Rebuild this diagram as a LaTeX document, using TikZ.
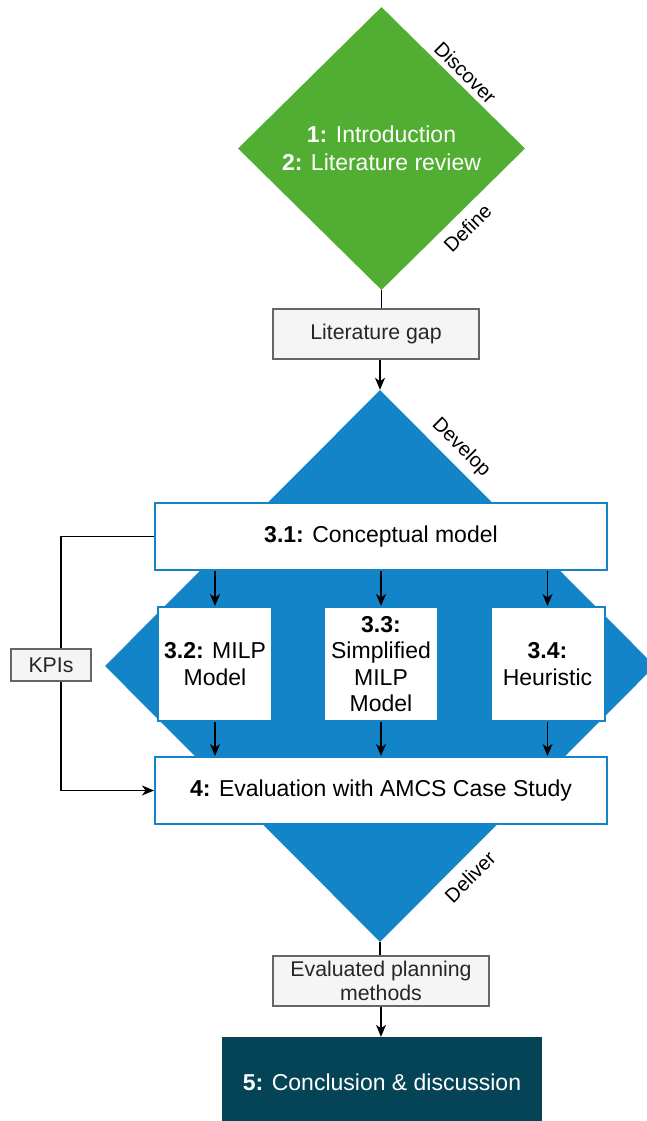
\documentclass[tikz,border=0pt]{standalone}
\usepackage{fontspec}
\setmainfont{Liberation Sans}
\usetikzlibrary{shapes.geometric,arrows.meta}
\definecolor{dgreen}{HTML}{52AE32}
\definecolor{dblue}{HTML}{1284C7}
\definecolor{dteal}{HTML}{054456}
\definecolor{gfill}{HTML}{F5F5F5}
\definecolor{gline}{HTML}{666666}
\begin{document}
\begin{tikzpicture}[x=1pt,y=-1pt,
  wbox/.style={draw=dblue, line width=2pt, fill=white, inner sep=0pt, align=center, font=\fontsize{23}{26.5}\selectfont},
  gbox/.style={draw=gline, line width=1.3pt, fill=gfill, inner sep=0pt, align=center, font=\fontsize{21.3}{24}\selectfont, text=black!85},
  phase/.style={font=\fontsize{20}{24}\selectfont, inner sep=0pt},
  conn/.style={line width=1.4pt, black},
  arr/.style={conn, -{Stealth[length=12pt,width=10pt,inset=3.5pt]}},
]
\useasboundingbox (0,0) rectangle (647,1121);
\clip (0,0) rectangle (647,1121);

\node[diamond, fill=dgreen, minimum width=287pt, minimum height=283pt, inner sep=0pt,
      text=white, align=center, font=\fontsize{23}{28}\selectfont] (green) at (381.5,148.5)
      {\textbf{1:} Introduction\\\textbf{2:} Literature review};
\node[gbox, minimum width=206pt, minimum height=50pt] (gap) at (376,334) {Literature gap};
\node[diamond, fill=dblue, minimum width=550pt, minimum height=552pt, inner sep=0pt] (blue) at (380,666) {};
\node[wbox, minimum width=452pt, minimum height=67pt] (concept) at (381,536.5) {\textbf{3.1:} Conceptual model};
\node[wbox, minimum width=114pt, minimum height=114pt] (milp) at (215,664) {\textbf{3.2:} MILP\\Model};
\node[wbox, minimum width=114pt, minimum height=114pt] (smilp) at (381,664) {\textbf{3.3:}\\Simplified\\MILP\\Model};
\node[wbox, minimum width=114pt, minimum height=114pt] (heur) at (547.5,664) {\textbf{3.4:}\\Heuristic};
\node[wbox, minimum width=452pt, minimum height=67pt] (eval) at (381,790.5) {\textbf{4:} Evaluation with AMCS Case Study};
\node[gbox, minimum width=80pt, minimum height=32pt] (kpi) at (51,665) {KPIs};
\node[gbox, minimum width=216pt, minimum height=50pt] (evp) at (381,981) {Evaluated planning\\methods};
\node[fill=dteal, minimum width=320pt, minimum height=90pt, inner sep=0pt, text=white,
      font=\fontsize{23}{27}\selectfont] (concl) at (382,1082) {\textbf{5:} Conclusion \& discussion};

\node[phase, rotate=-45] (discover) at (465.5,72.5) {Discover};
\node[phase, rotate=45] (define) at (467.5,228.5) {Define};
\node[phase, rotate=-45] (develop) at (461,448) {Develop};
\node[phase, rotate=45] (deliver) at (470,877) {Deliver};

\draw[conn] (green.south) -- (green.south |- gap.north);
\draw[arr] (blue.north |- gap.south) -- (blue.north);
\draw[arr] (concept.south -| milp.north) -- (milp.north);
\draw[arr] (concept.south -| smilp.north) -- (smilp.north);
\draw[arr] (concept.south -| heur.north) -- (heur.north);
\draw[arr] (milp.south) -- (milp.south |- eval.north);
\draw[arr] (smilp.south) -- (smilp.south |- eval.north);
\draw[arr] (heur.south) -- (heur.south |- eval.north);
\coordinate (kt) at ([xshift=10pt]kpi.north);
\coordinate (kb) at ([xshift=10pt]kpi.south);
\draw[conn] (concept.west) -| (kt);
\draw[arr] (kb) |- (eval.west);
\draw[conn] (blue.south) -- (blue.south |- evp.north);
\draw[arr] (evp.south) -- (evp.south |- concl.north);
\end{tikzpicture}
\end{document}
